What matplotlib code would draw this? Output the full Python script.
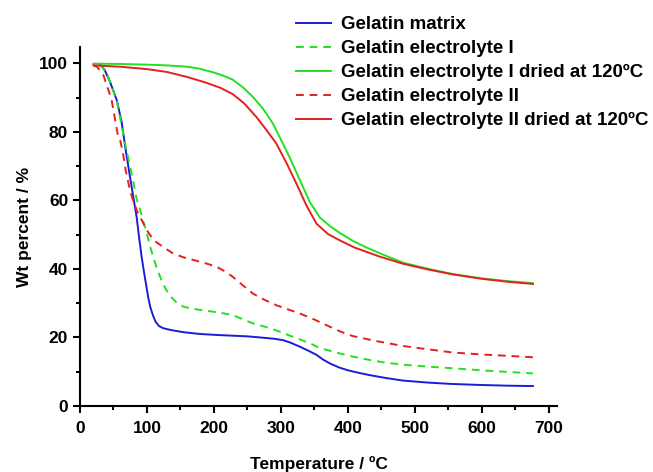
"""
TGA curves of gelatin matrix and gelatin electrolytes.
"""

import matplotlib
matplotlib.use("Agg")
import matplotlib.pyplot as plt
from matplotlib.ticker import MultipleLocator

plt.rcParams["font.family"] = ["Liberation Sans", "DejaVu Sans"]
plt.rcParams["font.weight"] = "bold"

# ── Data ──────────────────────────────────────────────────────────────────────

matrix_T = [30, 37, 45, 55, 62, 68, 74.5, 80, 84.5, 88, 92, 96, 99, 102, 105, 109,
            113, 118, 124, 130, 140, 155, 179, 205, 228, 250, 268, 290, 303, 315,
            328, 340, 353, 363, 373, 387, 400, 415, 432, 455, 482, 520, 556, 600,
            640, 676]
matrix_W = [99.7, 98, 94.5, 89.2, 83, 75, 67, 60.5, 55.2, 49.5, 43.5, 38.5, 35, 31.5,
            28.8, 26.4, 24.5, 23.3, 22.7, 22.4, 22, 21.5, 21, 20.7, 20.5, 20.3, 20, 19.6,
            19.2, 18.4, 17.3, 16.2, 14.9, 13.5, 12.4, 11.2, 10.4, 9.7, 9, 8.2, 7.4, 6.8,
            6.4, 6.1, 5.9, 5.8]

el1_T = [30, 40, 50, 55, 62, 68, 74.5, 80, 84.5, 90, 94, 99, 104, 110, 114, 119,
         124, 129, 136, 144, 154, 164, 180, 199, 215, 228, 243, 258, 278, 298, 320,
         343, 358, 373, 390, 407, 430, 457, 490, 532, 570, 606, 640, 676]
el1_W = [99.7, 97, 92, 89, 82, 76, 70, 65, 60.5, 57, 54.2, 51, 47, 43, 40.6, 38,
         35.5, 33.8, 31.8, 30.2, 29, 28.5, 28, 27.5, 27, 26.5, 25.3, 24.1, 23, 21.7, 20,
         18.3, 16.9, 16.1, 15.2, 14.4, 13.5, 12.6, 11.9, 11.3, 10.8, 10.3, 9.9, 9.5]

el1d_T = [20, 60, 100, 129, 160, 179, 200, 215, 228, 243, 258, 273, 288, 303, 313,
          328, 343, 358, 373, 387, 407, 427, 447, 482, 520, 556, 600, 640, 676]
el1d_W = [99.9, 99.8, 99.6, 99.4, 99, 98.4, 97.3, 96.3, 95.2, 93, 90.2, 86.8, 82.4,
          76.5, 72.5, 66, 59.5, 55, 52.5, 50.6, 48.2, 46.3, 44.6, 41.8, 40, 38.5, 37.2,
          36.4, 35.8]

el2_T = [20, 25, 30, 35, 41, 47, 52, 57, 60, 64, 68, 74.5, 80, 86, 94, 99, 106,
         114, 124, 139, 154, 169, 185, 204, 216, 228, 243, 258, 275, 293, 310, 328,
         350, 373, 390, 407, 440, 482, 520, 556, 600, 640, 676]
el2_W = [99.4, 99, 98, 96.5, 93, 89.5, 84, 78.5, 77.5, 74, 69, 63, 59.5, 56.5, 53.5,
         51.5, 49.5, 47.8, 46.4, 44.5, 43.4, 42.6, 41.8, 40.6, 39.3, 37.7, 35.2, 32.8,
         31, 29.4, 28.2, 27, 25.2, 23.1, 21.6, 20.4, 19, 17.5, 16.5, 15.6, 15, 14.6,
         14.2]

el2d_T = [20, 60, 100, 129, 160, 189, 210, 228, 245, 263, 278, 293, 308, 323, 338,
          353, 370, 387, 410, 430, 447, 482, 520, 556, 600, 640, 676]
el2d_W = [99.4, 99, 98.3, 97.5, 96, 94.3, 92.8, 91, 88.3, 84.4, 80.6, 76.6, 71, 64.9,
          58.5, 53.2, 50.2, 48.4, 46.2, 44.8, 43.6, 41.5, 39.8, 38.4, 37.1, 36.2, 35.6]

SERIES = [
    (matrix_T, matrix_W, "#1c1cd8", "-", "Gelatin matrix"),
    (el1_T, el1_W, "#22e022", "--", "Gelatin electrolyte I"),
    (el1d_T, el1d_W, "#22e022", "-", "Gelatin electrolyte I dried at 120ºC"),
    (el2_T, el2_W, "#e42020", "--", "Gelatin electrolyte II"),
    (el2d_T, el2d_W, "#e42020", "-", "Gelatin electrolyte II dried at 120ºC"),
]

# ── Plot ──────────────────────────────────────────────────────────────────────

fig = plt.figure(figsize=(6.53, 4.72), dpi=100)
ax = fig.add_axes([0.1225, 0.14, 0.7305, 0.76])

for T, W, color, ls, label in SERIES:
    ax.plot(T, W, color=color, ls=ls, lw=1.4, label=label,
            dashes=(4, 3) if ls == "--" else (None, None))

ax.set_xlim(0, 712)
ax.set_ylim(0, 104.7)
ax.xaxis.set_major_locator(MultipleLocator(100))
ax.xaxis.set_minor_locator(MultipleLocator(50))
ax.yaxis.set_major_locator(MultipleLocator(20))
ax.yaxis.set_minor_locator(MultipleLocator(10))
ax.tick_params(which="major", direction="out", length=5, width=1.5, labelsize=12.5)
ax.tick_params(axis="x", which="major", pad=6)
ax.tick_params(which="minor", direction="out", length=3, width=1.5)
for side in ("top", "right"):
    ax.spines[side].set_visible(False)
for side in ("left", "bottom"):
    ax.spines[side].set_linewidth(1.5)

for lab in ax.get_xticklabels() + ax.get_yticklabels():
    lab.set_fontweight("bold")

ax.set_xlabel("Temperature / ºC", fontsize=12.5, fontweight="bold", labelpad=14)
ax.set_ylabel("Wt percent / %", fontsize=12.5, fontweight="bold", labelpad=5)

fig.legend(loc="upper left", bbox_to_anchor=(296 / 653, 1 - 16 / 472),
           frameon=False, handlelength=1.85, handletextpad=0.55,
           labelspacing=0.37, borderpad=0, borderaxespad=0,
           prop={"weight": "bold", "size": 13.5})

fig.savefig("out.png", dpi=100)
